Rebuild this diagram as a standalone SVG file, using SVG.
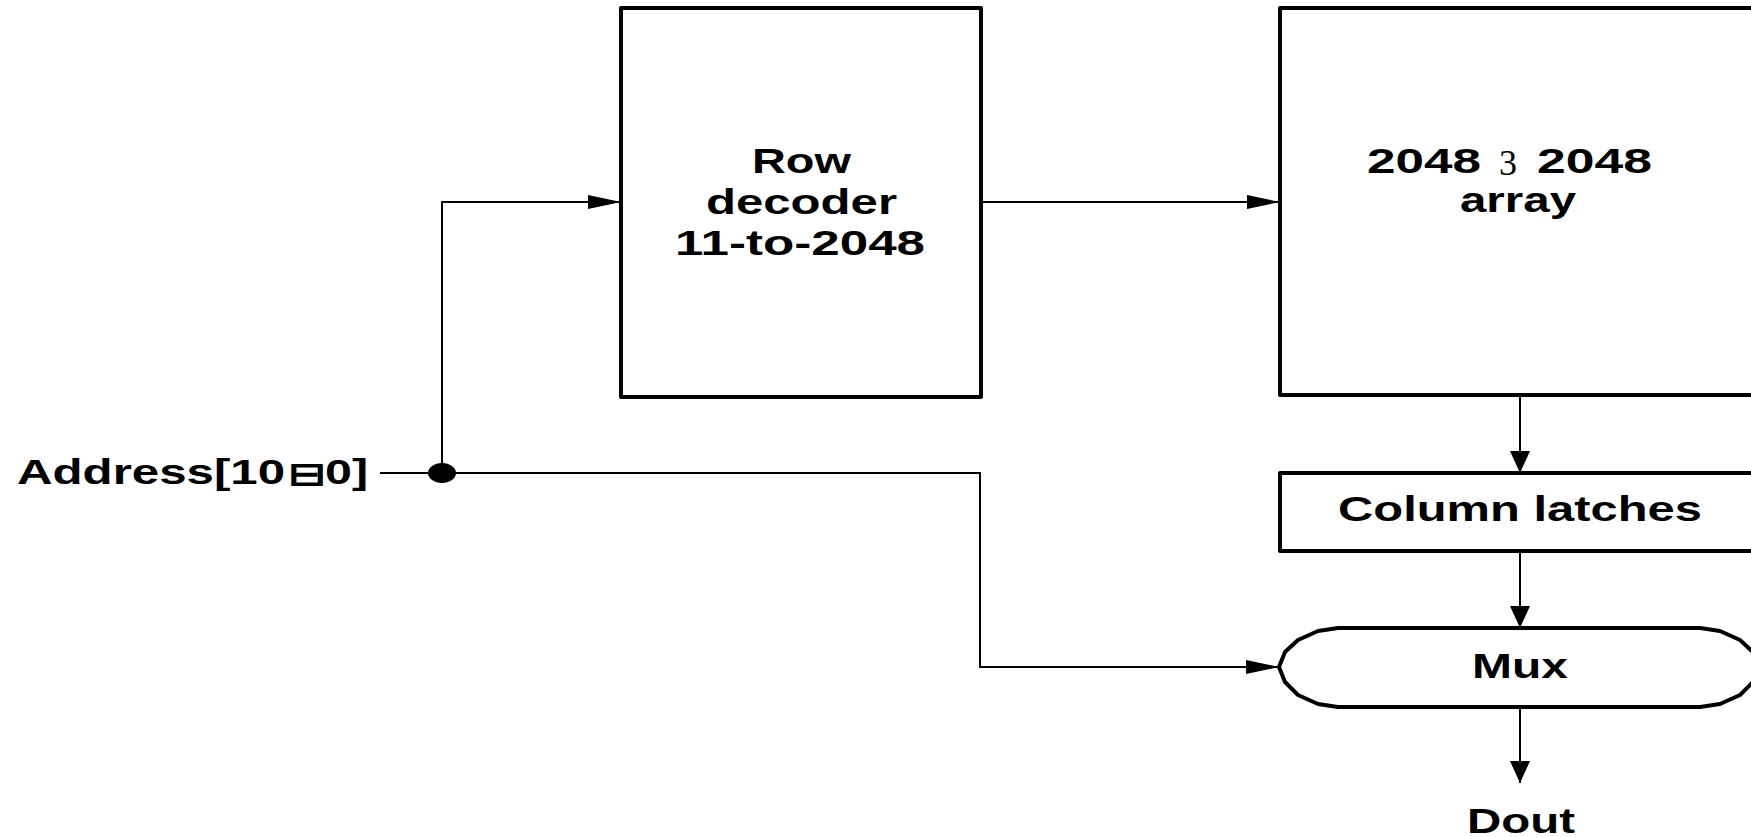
<svg xmlns="http://www.w3.org/2000/svg" width="1751" height="837" viewBox="0 0 1751 837">
<style>
.box{fill:#fff;stroke:#000;stroke-width:4;stroke-linejoin:round}
.wire{fill:none;stroke:#000;stroke-width:2}
.t{font-family:"Liberation Sans",Arial,sans-serif;font-weight:bold;fill:#000;font-size:35px}
.sym{font-family:"Liberation Serif","Times New Roman",serif;font-weight:normal;fill:#000;font-size:36px}
</style>
<defs>
<marker id="ah" viewBox="0 0 33 14" refX="33" refY="7" markerWidth="33" markerHeight="14" markerUnits="userSpaceOnUse" orient="auto"><path d="M0,0 L33,7 L0,14 z" fill="#000"/></marker>
<marker id="av" viewBox="0 0 22 20" refX="22" refY="10" markerWidth="22" markerHeight="20" markerUnits="userSpaceOnUse" orient="auto"><path d="M0,0 L22,10 L0,20 z" fill="#000"/></marker>
</defs>
<rect width="1751" height="837" fill="#fff"/>
<g id="connectors">
<path class="wire" d="M380,473 L980,473 L980,667 L1279,667" marker-end="url(#ah)"/>
<path class="wire" d="M442,473 L442,202 L621,202" marker-end="url(#ah)"/>
<path class="wire" d="M981,202 L1280,202" marker-end="url(#ah)"/>
<path class="wire" d="M1520,395 L1520,473" marker-end="url(#av)"/>
<path class="wire" d="M1520,551 L1520,628" marker-end="url(#av)"/>
<path class="wire" d="M1520,707 L1520,783" marker-end="url(#av)"/>
<ellipse cx="442" cy="473" rx="14" ry="10" fill="#000"/>
</g>
<g id="address">
<text class="t" x="17" y="484" textLength="268" lengthAdjust="spacingAndGlyphs">Address[10</text>
<text x="288" y="485" font-family="DejaVu Sans,sans-serif" font-size="32" stroke="#000" stroke-width="1.2" textLength="38" lengthAdjust="spacingAndGlyphs">⊟</text>
<text class="t" x="325" y="484" textLength="43" lengthAdjust="spacingAndGlyphs">0]</text>
</g>
<g id="row-decoder">
<rect class="box" x="621" y="8" width="360" height="389"/>
<text class="t" x="752" y="173" textLength="99" lengthAdjust="spacingAndGlyphs">Row</text>
<text class="t" x="706" y="214" textLength="191" lengthAdjust="spacingAndGlyphs">decoder</text>
<text class="t" x="675" y="255" textLength="250" lengthAdjust="spacingAndGlyphs">11-to-2048</text>
</g>
<g id="array">
<rect class="box" x="1280" y="8" width="480" height="387"/>
<text class="t" x="1367" y="173" textLength="114" lengthAdjust="spacingAndGlyphs">2048</text>
<text class="sym" x="1499" y="175" textLength="18" lengthAdjust="spacingAndGlyphs">3</text>
<text class="t" x="1537" y="173" textLength="115" lengthAdjust="spacingAndGlyphs">2048</text>
<text class="t" x="1460" y="212" textLength="116" lengthAdjust="spacingAndGlyphs">array</text>
</g>
<g id="column-latches">
<rect class="box" x="1280" y="473" width="480" height="78"/>
<text class="t" x="1338" y="521" textLength="364" lengthAdjust="spacingAndGlyphs">Column latches</text>
</g>
<g id="mux">
<path class="box" d="M1279,667 L1285,652 L1298,640 L1318,631 L1338,628 L1700,628 L1720,631 L1740,640 L1753,652 L1759,667 L1753,682 L1740,695 L1720,704 L1700,707 L1338,707 L1318,704 L1298,695 L1285,682 Z"/>
<text class="t" x="1472" y="678" textLength="96" lengthAdjust="spacingAndGlyphs">Mux</text>
</g>
<g id="dout">
<text class="t" x="1467" y="833" textLength="108" lengthAdjust="spacingAndGlyphs">Dout</text>
</g>
</svg>
